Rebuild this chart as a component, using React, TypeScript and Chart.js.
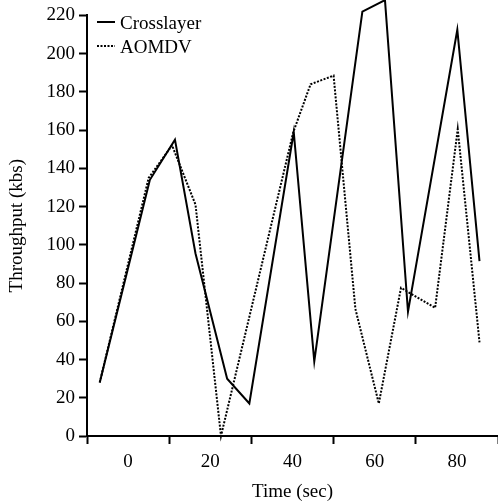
import React, { useEffect, useRef } from "react";
import { Chart, registerables } from "chart.js";

Chart.register(...registerables);

const crossX = [-6.9, 5.3, 11.4, 16.4, 24.1, 29.5, 40.3, 45.3, 57, 62.5, 68.1, 80.1, 85.5];
const crossY = [28, 134, 155, 95.5, 30, 17, 159, 39, 222, 228, 65, 212.5, 91.5];
const aomdvX = [-6.9, 5.0, 10.7, 16.4, 22.6, 40.2, 44.4, 50, 55.3, 61, 66.4, 74.7, 80.2, 85.5];
const aomdvY = [28, 135, 152, 121, 0, 159, 184, 188.5, 66.5, 17, 77.5, 67, 160.5, 49];
const seriesNames = ["Crosslayer", "AOMDV"];
const xTitle = "Time (sec)";
const yTitle = "Throughput (kbs)";

const FONT = '"Liberation Serif", "Times New Roman", serif';

const legendPlugin = {
  id: "innerLegend",
  afterDraw(chart: any) {
    const ctx = chart.ctx;
    const left = chart.chartArea.left;
    ctx.save();
    chart.data.datasets.forEach((ds: any, i: number) => {
      const yLine = 22 + i * 24;
      ctx.beginPath();
      ctx.strokeStyle = ds.borderColor;
      ctx.lineWidth = ds.borderWidth;
      ctx.setLineDash(ds.borderDash || []);
      ctx.moveTo(left + 10, yLine);
      ctx.lineTo(left + 28, yLine);
      ctx.stroke();
      ctx.setLineDash([]);
      ctx.fillStyle = "#000";
      ctx.font = `19px ${FONT}`;
      ctx.textBaseline = "alphabetic";
      ctx.textAlign = "left";
      ctx.fillText(ds.label, left + 33, yLine + 7);
    });
    ctx.restore();
  },
};

export default function App() {
  const ref = useRef<HTMLCanvasElement | null>(null);
  useEffect(() => {
    if (!ref.current) return;
    const chart = new Chart(ref.current, {
      type: "line",
      data: {
        datasets: [
          {
            label: seriesNames[0],
            data: crossX.map((x, i) => ({ x, y: crossY[i] })),
            borderColor: "#000",
            borderWidth: 2,
            pointRadius: 0,
            tension: 0,
            fill: false,
            clip: false as any,
          },
          {
            label: seriesNames[1],
            data: aomdvX.map((x, i) => ({ x, y: aomdvY[i] })),
            borderColor: "#000",
            borderWidth: 2,
            borderDash: [2, 1.5],
            pointRadius: 0,
            tension: 0,
            fill: false,
            clip: false as any,
          },
        ],
      },
      options: {
        animation: false,
        responsive: false,
        layout: { padding: { top: 15, right: 0, left: 0, bottom: 0 } },
        plugins: { legend: { display: false }, tooltip: { enabled: false } },
        scales: {
          x: {
            type: "linear",
            min: -10,
            max: 90,
            afterFit: (s: any) => {
              s.height = 68;
              s.paddingRight = 0;
              s.paddingLeft = 0;
            },
            ticks: {
              stepSize: 10,
              autoSkip: false,
              maxRotation: 0,
              color: "#000",
              font: { family: FONT, size: 19 },
              padding: 7,
              callback: (v: any) => (Math.round(v) % 20 === 0 ? String(v) : ""),
            },
            grid: {
              drawOnChartArea: false,
              tickLength: 8,
              tickWidth: 2,
              tickColor: (c: any) =>
                c.tick && Math.round(c.tick.value + 10) % 20 === 0 ? "#000" : "rgba(0,0,0,0)",
            },
            border: { display: true, color: "#000", width: 2 },
            title: {
              display: true,
              text: xTitle,
              color: "#000",
              font: { family: FONT, size: 19 },
              padding: { top: 0, bottom: 1 },
            },
          },
          y: {
            min: 0,
            max: 220,
            afterFit: (s: any) => {
              s.width = 87;
            },
            ticks: {
              stepSize: 20,
              color: "#000",
              font: { family: FONT, size: 19 },
              padding: 4,
            },
            grid: {
              drawOnChartArea: false,
              tickLength: 8,
              tickWidth: 2,
              tickColor: "#000",
            },
            border: { display: true, color: "#000", width: 2 },
            title: {
              display: true,
              text: yTitle,
              color: "#000",
              font: { family: FONT, size: 19 },
              padding: { top: 6, bottom: 0 },
            },
          },
        },
      },
      plugins: [legendPlugin],
    });
    return () => chart.destroy();
  }, []);
  return (
    <div style={{ position: "absolute", left: 0, top: 0, width: 498, height: 504, background: "#fff" }}>
      <canvas ref={ref} width={498} height={504} style={{ display: "block" }} />
    </div>
  );
}
